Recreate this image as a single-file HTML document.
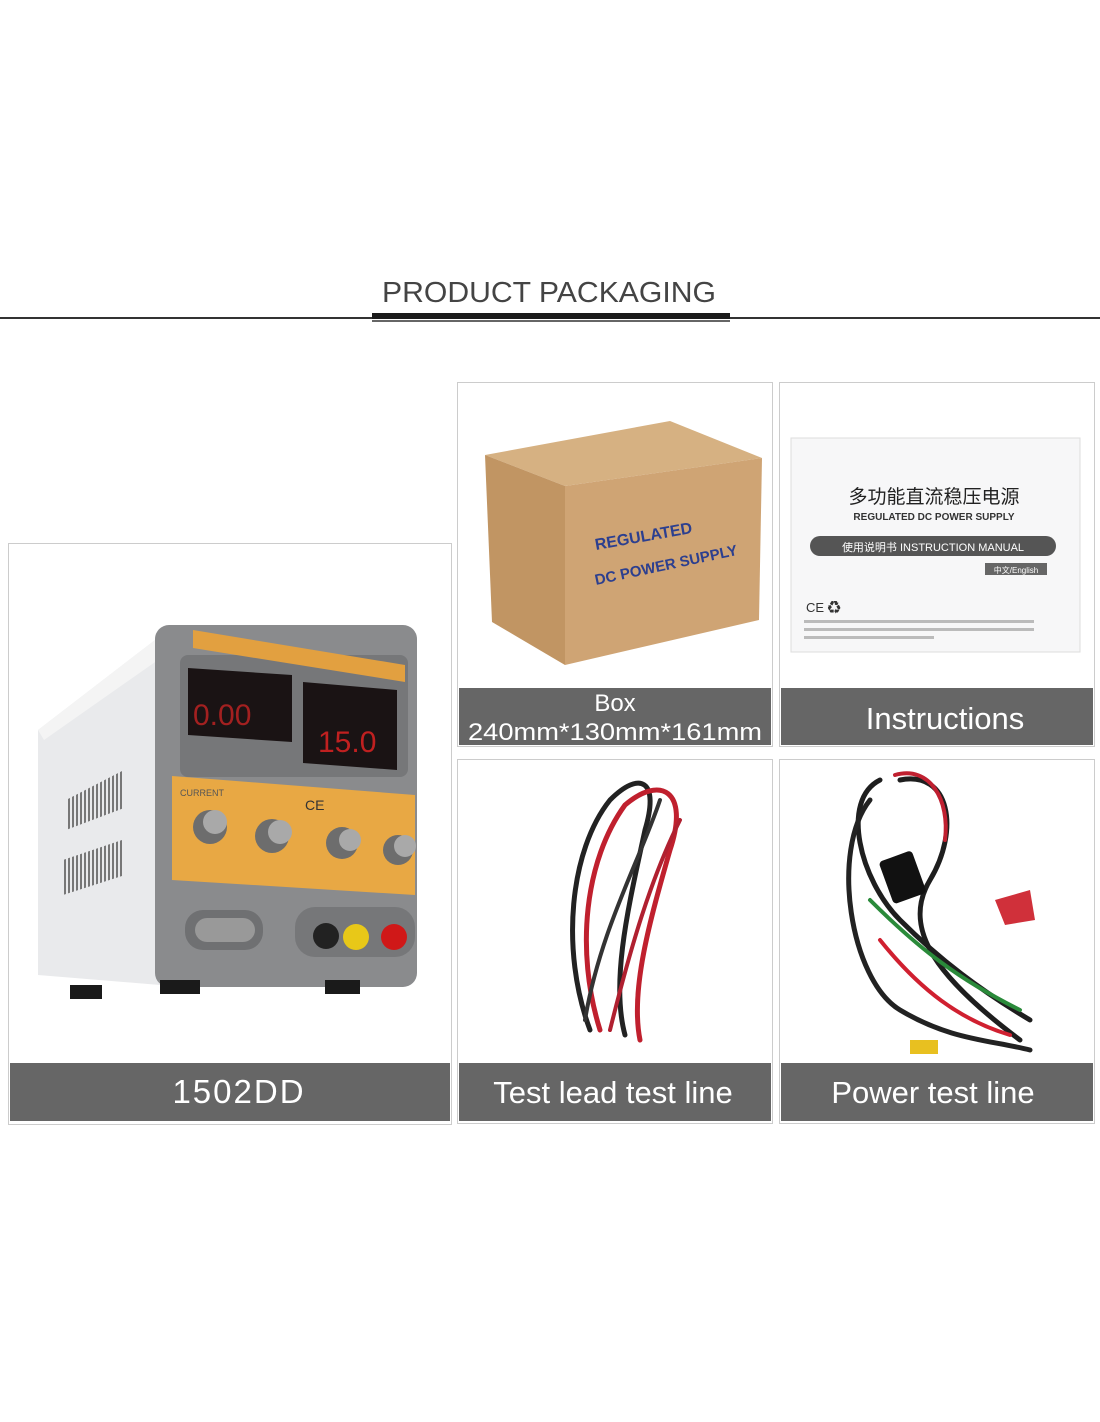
<!DOCTYPE html>
<html><head><meta charset="utf-8"><style>
html,body{margin:0;padding:0;background:#fff;}
svg{display:block}
text{font-family:"Liberation Sans","Noto Sans CJK SC",sans-serif;}
</style></head><body>
<svg width="1100" height="1422" viewBox="0 0 1100 1422" xmlns="http://www.w3.org/2000/svg">
<defs><pattern id="v" width="4" height="10" patternUnits="userSpaceOnUse"><rect width="2" height="10" fill="#777"/></pattern></defs>
<rect width="1100" height="1422" fill="#fff"/>
<!-- title -->
<text x="549" y="302" text-anchor="middle" font-size="29" fill="#444" textLength="334" lengthAdjust="spacingAndGlyphs">PRODUCT PACKAGING</text>
<rect x="0" y="317" width="1100" height="2" fill="#333"/>
<rect x="372" y="313" width="358" height="6" fill="#1a1a1a"/>
<rect x="372" y="320" width="358" height="2" fill="#666"/>

<!-- panel borders -->
<rect x="8.5" y="543.5" width="443" height="581" fill="#fff" stroke="#ccc"/>
<rect x="457.5" y="382.5" width="315" height="364" fill="#fff" stroke="#ccc"/>
<rect x="779.5" y="382.5" width="315" height="364" fill="#fff" stroke="#ccc"/>
<rect x="457.5" y="759.5" width="315" height="364" fill="#fff" stroke="#ccc"/>
<rect x="779.5" y="759.5" width="315" height="364" fill="#fff" stroke="#ccc"/>

<!-- label bars -->
<rect x="10" y="1063" width="440" height="58" fill="#666"/>
<text x="239" y="1103" text-anchor="middle" font-size="33" fill="#fff" letter-spacing="2">1502DD</text>
<rect x="459" y="688" width="312" height="57" fill="#666"/>
<text x="615" y="711" text-anchor="middle" font-size="24" fill="#fff">Box</text>
<text x="615" y="740" text-anchor="middle" font-size="24" fill="#fff" textLength="294" lengthAdjust="spacingAndGlyphs">240mm*130mm*161mm</text>
<rect x="781" y="688" width="312" height="57" fill="#666"/>
<text x="945" y="729" text-anchor="middle" font-size="31" fill="#fff">Instructions</text>
<rect x="459" y="1063" width="312" height="58" fill="#666"/>
<text x="613" y="1103" text-anchor="middle" font-size="31" fill="#fff">Test lead test line</text>
<rect x="781" y="1063" width="312" height="58" fill="#666"/>
<text x="933" y="1103" text-anchor="middle" font-size="31" fill="#fff">Power test line</text>

<!-- power supply -->
<polygon points="38,730 155,640 160,985 38,975" fill="#e9eaec"/>
<polygon points="38,730 155,640 158,660 44,740" fill="#f4f4f4"/>
<polygon points="66,800 124,770 124,808 66,830" fill="url(#v)"/>
<polygon points="63,860 122,840 122,876 63,895" fill="url(#v)"/>
<rect x="155" y="625" width="262" height="362" rx="14" fill="#8a8b8d"/>
<rect x="180" y="655" width="228" height="122" rx="8" fill="#767779"/>
<polygon points="193,630 405,665 405,682 193,648" fill="#e2a040"/>
<polygon points="188,668 292,675 292,742 188,735" fill="#1a1314"/>
<polygon points="303,682 397,690 397,770 303,763" fill="#1a1314"/>
<text x="193" y="725" font-size="30" fill="#a32020" font-family="Liberation Mono">0.00</text>
<text x="318" y="752" font-size="30" fill="#c02020" font-family="Liberation Mono">15.0</text>
<polygon points="172,776 415,795 415,895 172,880" fill="#e8a844"/>
<circle cx="210" cy="827" r="17" fill="#6d6d6d"/><circle cx="215" cy="822" r="12" fill="#a9a9a9"/>
<circle cx="272" cy="836" r="17" fill="#6d6d6d"/><circle cx="280" cy="832" r="12" fill="#a9a9a9"/>
<circle cx="342" cy="843" r="16" fill="#6d6d6d"/><circle cx="350" cy="840" r="11" fill="#a9a9a9"/>
<circle cx="398" cy="850" r="15" fill="#6d6d6d"/><circle cx="405" cy="846" r="11" fill="#a9a9a9"/>
<text x="180" y="796" font-size="9" fill="#555">CURRENT</text>
<text x="305" y="810" font-size="14" fill="#333">CE</text>
<rect x="185" y="910" width="78" height="40" rx="18" fill="#6f7072"/>
<rect x="195" y="918" width="60" height="24" rx="12" fill="#999"/>
<rect x="295" y="907" width="120" height="50" rx="20" fill="#767779"/>
<circle cx="326" cy="936" r="13" fill="#222"/>
<circle cx="356" cy="937" r="13" fill="#e8c818"/>
<circle cx="394" cy="937" r="13" fill="#d01818"/>
<rect x="70" y="985" width="32" height="14" fill="#1a1a1a"/>
<rect x="160" y="980" width="40" height="14" fill="#1a1a1a"/>
<rect x="325" y="980" width="35" height="14" fill="#1a1a1a"/>

<!-- box -->
<polygon points="485,455 670,421 762,458 565,486" fill="#d6b182"/>
<polygon points="485,455 565,486 565,665 492,622" fill="#c19563"/>
<polygon points="565,486 762,458 759,620 565,665" fill="#cfa474"/>
<text x="596" y="550" font-size="16" font-weight="bold" fill="#2c3f8f" transform="rotate(-10 596 550)">REGULATED</text>
<text x="596" y="585" font-size="15" font-weight="bold" fill="#2c3f8f" transform="rotate(-12 596 585)">DC POWER SUPPLY</text>

<!-- manual -->
<rect x="791" y="438" width="289" height="214" fill="#f7f7f8" stroke="#ddd"/>
<text x="934" y="503" text-anchor="middle" font-size="19" fill="#222">多功能直流稳压电源</text>
<text x="934" y="520" text-anchor="middle" font-size="10" font-weight="bold" fill="#333" font-family="Liberation Serif">REGULATED DC POWER SUPPLY</text>
<rect x="810" y="536" width="246" height="20" rx="10" fill="#555"/>
<text x="933" y="551" text-anchor="middle" font-size="11" fill="#fff">使用说明书 INSTRUCTION MANUAL</text>
<rect x="985" y="563" width="62" height="12" fill="#666"/>
<text x="1016" y="573" text-anchor="middle" font-size="8" fill="#fff">中文/English</text>
<text x="806" y="612" font-size="13" fill="#333">CE ♻</text>
<rect x="804" y="620" width="230" height="3" fill="#bbb"/>
<rect x="804" y="628" width="230" height="3" fill="#bbb"/>
<rect x="804" y="636" width="130" height="3" fill="#bbb"/>

<!-- test leads -->
<g fill="none" stroke-linecap="round">
<path d="M590,1030 C560,950 570,850 610,800 C640,770 660,780 645,830 C630,900 610,980 625,1035" stroke="#222" stroke-width="5"/>
<path d="M600,1030 C575,950 585,860 625,805 C660,775 690,790 670,850 C650,920 630,990 640,1040" stroke="#c0202e" stroke-width="5"/>
<path d="M585,1020 C600,930 640,860 660,800" stroke="#333" stroke-width="4"/>
<path d="M610,1030 C630,950 650,880 680,820" stroke="#b02030" stroke-width="4"/>
</g>
<!-- power test line -->
<g fill="none" stroke-linecap="round">
<path d="M880,780 C840,800 860,880 900,920 C940,960 980,990 1030,1020" stroke="#1e1e1e" stroke-width="5"/>
<path d="M900,780 C950,770 960,830 930,880 C900,930 940,980 1020,1040" stroke="#1e1e1e" stroke-width="5"/>
<path d="M870,800 C830,850 850,980 900,1010 C950,1040 990,1040 1030,1050" stroke="#222" stroke-width="5"/>
<path d="M895,775 C930,765 950,800 945,840" stroke="#c02030" stroke-width="4"/>
<path d="M870,900 C920,950 960,980 1020,1010" stroke="#2a8a3a" stroke-width="4"/>
<path d="M880,940 C920,990 960,1020 1010,1035" stroke="#d02030" stroke-width="4"/>
</g>
<rect x="885" y="855" width="35" height="45" rx="4" fill="#111" transform="rotate(-20 902 877)"/>
<polygon points="995,900 1030,890 1035,920 1005,925" fill="#d0303a"/>
<rect x="910" y="1040" width="28" height="14" fill="#e8c020"/>
</svg>
</body></html>
